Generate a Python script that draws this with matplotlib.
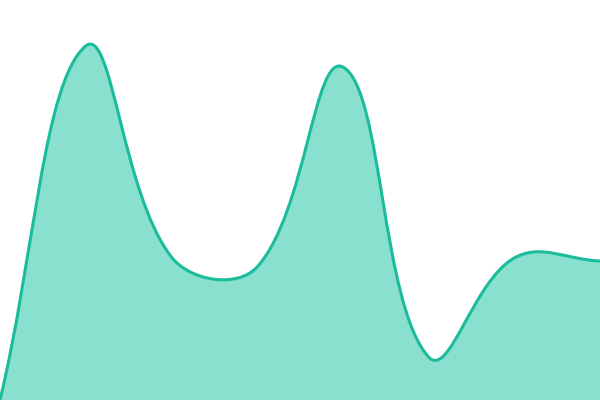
import matplotlib
matplotlib.use("Agg")
import matplotlib.pyplot as plt
from matplotlib.path import Path
from matplotlib.patches import PathPatch
import numpy as np

# data points (evenly spaced)
xs = [0, 1, 2, 3, 4, 5, 6, 7]
values = [0, 354, 143, 133, 333, 43, 142, 139]

line_color = "#1abc9c"
fill_color = "#8ae0cf"

W, H = 600, 400
TENSION = 0.4


def spline_path(x, y, t=TENSION):
    # distance weighted spline, the kind canvas chart libs use for "tension"
    p = np.column_stack([np.asarray(x, float) * W / (len(x) - 1),
                         np.asarray(y, float)])
    n = len(p)
    before, after = [], []
    for i in range(n):
        prev = p[i - 1] if i > 0 else p[i]
        nxt = p[i + 1] if i < n - 1 else p[i]
        d01 = np.hypot(*(p[i] - prev))
        d12 = np.hypot(*(nxt - p[i]))
        tot = d01 + d12
        s01 = d01 / tot if tot else 0
        s12 = d12 / tot if tot else 0
        before.append(p[i] - t * s01 * (nxt - prev))
        after.append(p[i] + t * s12 * (nxt - prev))
    verts = [tuple(p[0])]
    codes = [Path.MOVETO]
    for i in range(n - 1):
        c1 = np.clip(after[i], [0, 0], [W, H])
        c2 = np.clip(before[i + 1], [0, 0], [W, H])
        verts += [tuple(c1), tuple(c2), tuple(p[i + 1])]
        codes += [Path.CURVE4] * 3
    return verts, codes


fig = plt.figure(figsize=(6, 4), dpi=100)
ax = fig.add_axes([0, 0, 1, 1])

verts, codes = spline_path(xs, values)

# area
fv = verts + [(W, 0), (0, 0), verts[0]]
fc = codes + [Path.LINETO, Path.LINETO, Path.CLOSEPOLY]
ax.add_patch(PathPatch(Path(fv, fc), facecolor=fill_color, edgecolor="none"))

# line
ax.add_patch(PathPatch(Path(verts, codes), facecolor="none",
                       edgecolor=line_color, linewidth=2.2))

ax.set_xlim(0, W)
ax.set_ylim(0, H)
ax.axis("off")

fig.savefig("out.png", dpi=100)
